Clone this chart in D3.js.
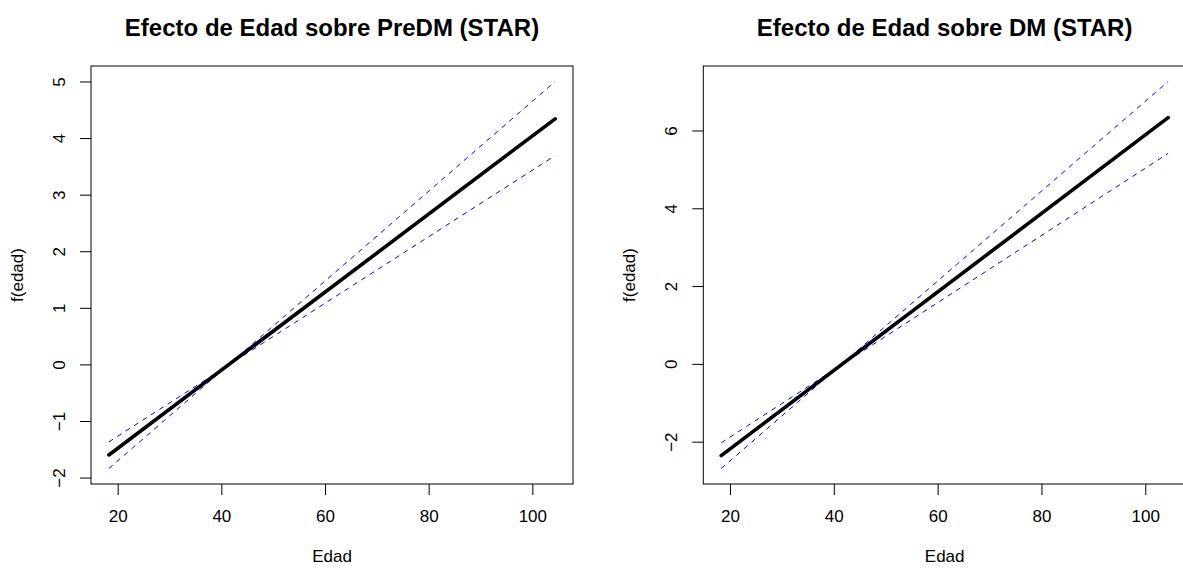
<!DOCTYPE html>
<html>
<head>
<meta charset="utf-8">
<script src="https://cdn.jsdelivr.net/npm/d3@7"></script>
<style>
  body { margin: 0; background: white; }
  svg { display: block; font-family: 'Liberation Sans', Arial, sans-serif; }
</style>
</head>
<body>
<div id="chart-container"></div>
<script>
// edad (x) at the ends of the fitted curve
const edad = [18.3, 104.4]

// Panel 1: PreDM
const predmFit = [-1.6, 4.34]
const predmBandA = [-1.37, 3.69] // fit +/- 2se (the two dashed lines)
const predmBandB = [-1.84, 5.0]
const predmYTicks = [-2, -1, 0, 1, 2, 3, 4, 5]

// Panel 2: DM
const dmFit = [-2.36, 6.33]
const dmBandA = [-2.03, 5.41]
const dmBandB = [-2.69, 7.26]
const dmYTicks = [-2, 0, 2, 4, 6]

const xTicks = [20, 40, 60, 80, 100]

const width = 1183
const height = 570

const svg = d3
  .select('#chart-container')
  .append('svg')
  .attr('width', width)
  .attr('height', height)

const panels = [
  {
    title: 'Efecto de Edad sobre PreDM (STAR)',
    fit: predmFit,
    bandA: predmBandA,
    bandB: predmBandB,
    yTicks: predmYTicks,
    left: 91,
    right: 573,
  },
  {
    title: 'Efecto de Edad sobre DM (STAR)',
    fit: dmFit,
    bandA: dmBandA,
    bandB: dmBandB,
    yTicks: dmYTicks,
    left: 703.3,
    right: 1186,
  },
]

const plotTop = 66
const plotBottom = 484

// R style axis range: data extent padded by 4%
const padExtent = vals => {
  const [lo, hi] = d3.extent(vals)
  const pad = (hi - lo) * 0.04
  return [lo - pad, hi + pad]
}

panels.forEach(p => {
  const g = svg.append('g')

  const x = d3.scaleLinear().domain(padExtent(edad)).range([p.left, p.right])
  const y = d3
    .scaleLinear()
    .domain(padExtent([...p.fit, ...p.bandA, ...p.bandB]))
    .range([plotBottom, plotTop])

  const pts = arr => edad.map((e, i) => [e, arr[i]])
  const line = d3
    .line()
    .x(d => x(d[0]))
    .y(d => y(d[1]))

  // confidence bands
  ;[p.bandA, p.bandB].forEach(b => {
    g.append('path')
      .attr('d', line(pts(b)))
      .attr('fill', 'none')
      .attr('stroke', '#0000ff')
      .attr('stroke-width', 1)
      .attr('stroke-dasharray', '5,5')
  })

  // fitted effect
  g.append('path')
    .attr('d', line(pts(p.fit)))
    .attr('fill', 'none')
    .attr('stroke', '#000')
    .attr('stroke-width', 3.6)
    .attr('stroke-linecap', 'round')

  // box
  g.append('rect')
    .attr('x', p.left)
    .attr('y', plotTop)
    .attr('width', p.right - p.left)
    .attr('height', plotBottom - plotTop)
    .attr('fill', 'none')
    .attr('stroke', '#000')
    .attr('stroke-width', 1)

  // x axis
  const xAxis = g
    .append('g')
    .attr('transform', `translate(0,${plotBottom})`)
    .call(d3.axisBottom(x).tickValues(xTicks).tickSize(11).tickPadding(15))
  xAxis.select('.domain').remove()
  xAxis.selectAll('text').attr('font-size', 17).attr('fill', '#000').attr('font-family', null)

  // y axis (R style: labels rotated, parallel to axis)
  const yAxis = g
    .append('g')
    .attr('transform', `translate(${p.left},0)`)
    .call(d3.axisLeft(y).tickValues(p.yTicks).tickSize(11))
  yAxis.select('.domain').remove()
  yAxis
    .selectAll('text')
    .attr('font-size', 17)
    .attr('fill', '#000')
    .attr('font-family', null)
    .attr('x', null)
    .attr('dy', null)
    .attr('text-anchor', 'middle')
    .attr('transform', 'translate(-26,0) rotate(-90)')

  // title
  g.append('text')
    .attr('x', (p.left + p.right) / 2)
    .attr('y', 36)
    .attr('text-anchor', 'middle')
    .attr('font-size', 24)
    .attr('font-weight', 'bold')
    .text(p.title)

  // axis titles
  g.append('text')
    .attr('x', (p.left + p.right) / 2)
    .attr('y', 562)
    .attr('text-anchor', 'middle')
    .attr('font-size', 17)
    .text('Edad')

  g.append('text')
    .attr('transform', `translate(${p.left - 68},${(plotTop + plotBottom) / 2}) rotate(-90)`)
    .attr('text-anchor', 'middle')
    .attr('font-size', 17)
    .text('f(edad)')
})
</script>
</body>
</html>
